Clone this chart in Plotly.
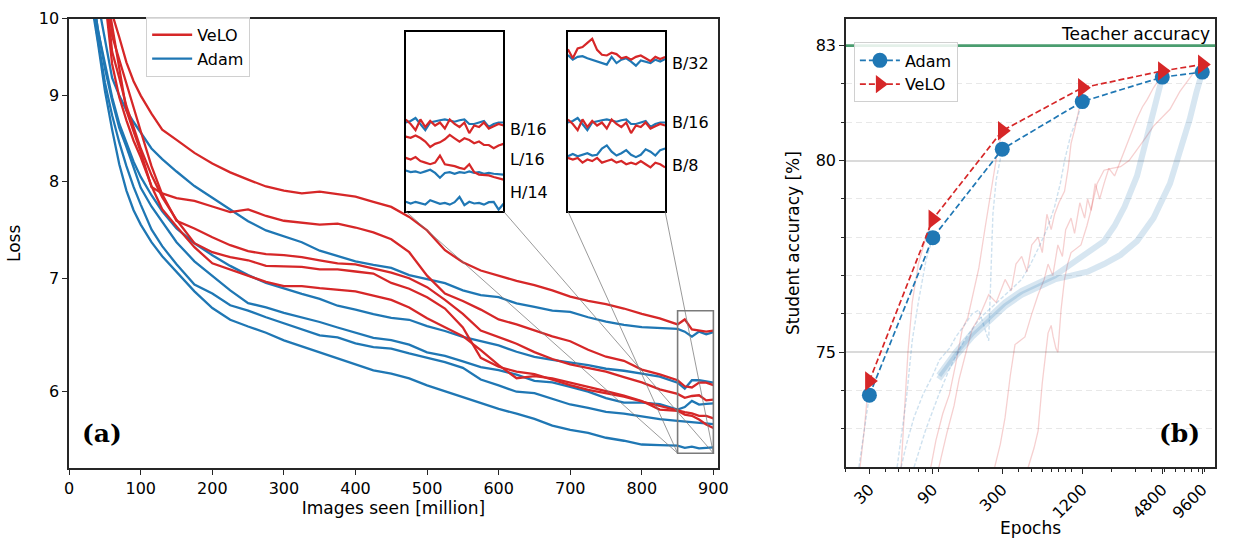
import math
import plotly.graph_objects as go

W, H = 1239, 538
RED = "#d62728"
BLUE = "#1f77b4"
GREEN = "#4a9d6f"
FONT = "DejaVu Sans"

# ---------------- Panel (a): training loss ----------------
IMAGES_M = [20, 30, 40, 50, 60, 70, 80, 90, 100, 115, 130, 150,
            175, 200, 225, 250, 275, 300, 325, 350, 375, 400, 425, 450, 475, 500,
            525, 550, 575, 600, 625, 650, 675, 700, 725, 750, 775, 800, 825,
            850, 852.5, 855, 857.5, 860, 862.5, 865, 867.5, 870, 872.5, 875,
            877.5, 880, 882.5, 885, 887.5, 890, 892.5, 895, 897.5, 900]
# points of the zoom window that are also drawn in the full-size panel
MAIN_TAIL_X = [850, 860, 870, 880, 890, 900]

VELO_B32 = [12.5, 11.7, 11.0, 10.45, 10.07, 9.75, 9.42, 9.18, 9.0, 8.78, 8.59, 8.47,
            8.32, 8.20, 8.10, 8.02, 7.945, 7.90, 7.87, 7.89, 7.865, 7.835, 7.78, 7.725, 7.62, 7.48,
            7.28, 7.16, 7.08, 7.03, 6.98, 6.94, 6.89, 6.83, 6.79, 6.76, 6.72, 6.67, 6.63,
            6.575, 6.51, 6.58, 6.59, 6.62, 6.65, 6.57, 6.535, 6.53, 6.55, 6.54,
            6.51, 6.52, 6.50, 6.52, 6.53, 6.51, 6.49, 6.52, 6.505, 6.52]
ADAM_B32 = [12.0, 11.0, 10.25, 9.72, 9.22, 9.0, 8.82, 8.68, 8.55, 8.37, 8.25, 8.11,
            7.95, 7.82, 7.70, 7.575, 7.48, 7.42, 7.36, 7.275, 7.22, 7.17, 7.135, 7.105, 7.035, 7.0,
            6.958, 6.89, 6.845, 6.825, 6.768, 6.735, 6.70, 6.69, 6.64, 6.60, 6.57, 6.55, 6.54,
            6.534, 6.50, 6.52, 6.525, 6.51, 6.50, 6.487, 6.476, 6.465, 6.52, 6.476,
            6.50, 6.51, 6.487, 6.458, 6.495, 6.487, 6.476, 6.50, 6.487, 6.505]
VELO_B16 = [13.0, 12.0, 11.2, 10.5, 9.89, 9.31, 8.82, 8.57, 8.33, 7.94, 7.87, 7.82,
            7.79, 7.73, 7.67, 7.70, 7.63, 7.58, 7.56, 7.54, 7.55, 7.51, 7.46, 7.39, 7.26, 7.03,
            6.86, 6.79, 6.71, 6.62, 6.575, 6.52, 6.468, 6.425, 6.35, 6.29, 6.255, 6.18, 6.14,
            6.09, 6.06, 6.02, 6.09, 6.04, 6.08, 6.05, 6.07, 6.03, 6.09, 6.06,
            6.04, 6.07, 6.00, 6.05, 6.04, 6.07, 6.03, 6.045, 6.06, 6.05]
ADAM_B16 = [11.8, 10.6, 9.85, 9.39, 8.98, 8.66, 8.43, 8.22, 8.05, 7.85, 7.68, 7.50,
            7.35, 7.23, 7.125, 7.035, 6.96, 6.905, 6.856, 6.81, 6.746, 6.71, 6.668, 6.635, 6.617, 6.56,
            6.516, 6.463, 6.425, 6.388, 6.333, 6.288, 6.263, 6.242, 6.217, 6.187, 6.17, 6.146, 6.12,
            6.07, 6.08, 6.10, 6.06, 6.02, 6.07, 6.08, 6.085, 6.09, 6.08, 6.075,
            6.085, 6.09, 6.06, 6.06, 6.07, 6.08, 6.04, 6.06, 6.07, 6.07]
VELO_B8 = [13.0, 12.0, 11.2, 10.5, 9.56, 9.22, 8.87, 8.62, 8.37, 8.07, 7.83, 7.59,
           7.35, 7.26, 7.21, 7.18, 7.125, 7.12, 7.115, 7.09, 7.09, 7.07, 7.05, 6.96, 6.905, 6.825,
           6.72, 6.547, 6.28, 6.204, 6.162, 6.142, 6.095, 6.05, 6.01, 5.983, 5.955, 5.915, 5.879,
           5.84, 5.83, 5.84, 5.81, 5.83, 5.82, 5.84, 5.81, 5.82, 5.83, 5.81,
           5.82, 5.80, 5.81, 5.80, 5.82, 5.80, 5.78, 5.81, 5.80, 5.78]
ADAM_B8 = [11.6, 10.5, 9.87, 9.34, 8.94, 8.61, 8.39, 8.15, 7.93, 7.73, 7.57, 7.36,
           7.17, 7.03, 6.89, 6.77, 6.73, 6.68, 6.64, 6.597, 6.547, 6.503, 6.455, 6.435, 6.395, 6.328,
           6.298, 6.25, 6.2, 6.175, 6.137, 6.085, 6.072, 6.035, 5.995, 5.943, 5.906, 5.906, 5.893,
           5.85, 5.865, 5.85, 5.86, 5.87, 5.855, 5.86, 5.90, 5.92, 5.88, 5.855,
           5.87, 5.89, 5.86, 5.845, 5.86, 5.895, 5.88, 5.855, 5.89, 5.90]
VELO_L16 = [13.5, 12.5, 11.6, 10.8, 9.77, 9.45, 9.15, 8.85, 8.57, 8.17, 7.86, 7.58,
            7.50, 7.41, 7.33, 7.27, 7.24, 7.23, 7.21, 7.18, 7.15, 7.14, 7.10, 7.06, 7.005, 6.92,
            6.80, 6.67, 6.52, 6.463, 6.403, 6.33, 6.27, 6.224, 6.195, 6.162, 6.117, 6.072, 6.015,
            5.977, 5.97, 5.985, 5.968, 5.945, 5.91, 5.93, 5.94, 5.96, 5.988, 5.966,
            5.945, 5.966, 5.955, 5.934, 5.945, 5.924, 5.923, 5.902, 5.92, 5.93]
ADAM_L16 = [11.6, 10.4, 9.73, 9.16, 8.76, 8.44, 8.17, 7.94, 7.75, 7.49, 7.32, 7.14,
            6.945, 6.86, 6.75, 6.70, 6.64, 6.586, 6.526, 6.477, 6.459, 6.406, 6.373, 6.36, 6.318, 6.284,
            6.244, 6.195, 6.096, 6.047, 5.995, 5.983, 5.935, 5.891, 5.864, 5.832, 5.818, 5.793, 5.773,
            5.76, 5.75, 5.755, 5.745, 5.755, 5.765, 5.745, 5.715, 5.745, 5.75, 5.74,
            5.75, 5.745, 5.755, 5.745, 5.75, 5.74, 5.745, 5.74, 5.738, 5.735]
VELO_H14 = [12.8, 11.8, 11.0, 10.3, 9.40, 8.98, 8.70, 8.46, 8.27, 7.95, 7.70, 7.52,
            7.31, 7.15, 7.09, 7.03, 6.97, 6.93, 6.93, 6.91, 6.895, 6.88, 6.84, 6.80, 6.73, 6.63,
            6.55, 6.47, 6.347, 6.218, 6.107, 6.125, 6.105, 6.072, 6.035, 6.0, 5.963, 5.919, 5.85,
            5.84, 5.83, 5.845, 5.82, 5.81, 5.80, 5.81, 5.855, 5.80, 5.794, 5.788,
            5.777, 5.77, 5.80, 5.75, 5.735, 5.732, 5.73, 5.72, 5.712, 5.703]
ADAM_H14 = [11.5, 10.3, 9.69, 9.06, 8.59, 8.19, 7.90, 7.69, 7.54, 7.36, 7.22, 7.07,
            6.88, 6.725, 6.617, 6.556, 6.50, 6.433, 6.38, 6.326, 6.27, 6.225, 6.173, 6.146, 6.105, 6.047,
            6.0, 5.947, 5.903, 5.855, 5.817, 5.775, 5.723, 5.689, 5.666, 5.628, 5.605, 5.576, 5.572,
            5.567, 5.557, 5.567, 5.56, 5.55, 5.577, 5.565, 5.555, 5.56, 5.55, 5.565,
            5.597, 5.547, 5.567, 5.557, 5.56, 5.55, 5.565, 5.567, 5.52, 5.555]

MODELS = ["B/32", "B/16", "B/8", "L/16", "H/14"]
VELO = {"B/32": VELO_B32, "B/16": VELO_B16, "B/8": VELO_B8, "L/16": VELO_L16, "H/14": VELO_H14}
ADAM = {"B/32": ADAM_B32, "B/16": ADAM_B16, "B/8": ADAM_B8, "L/16": ADAM_L16, "H/14": ADAM_H14}
INSET1_MODELS = ["B/16", "L/16", "H/14"]
INSET2_MODELS = ["B/32", "B/16", "B/8"]
ZOOM_X = [850, 900]
ZOOM_Y = [5.51, 6.70]
X_TICKS_A = [0, 100, 200, 300, 400, 500, 600, 700, 800, 900]
Y_TICKS_A = [6, 7, 8, 9, 10]
X_RANGE_A = [0, 906]
Y_RANGE_A = [5.4, 10]

# ---------------- Panel (b): student accuracy ----------------
EPOCHS = [30, 90, 300, 1200, 4800, 9600]
ADAM_ACC = [73.88, 77.99, 80.30, 81.54, 82.18, 82.31]
VELO_ACC = [74.25, 78.47, 80.78, 81.90, 82.34, 82.51]
TEACHER_ACC = 83.0

# faint training curves (epoch, accuracy)
V30_E = [25.5, 27.5, 29, 30]
V30_A = [72.0, 73.0, 73.9, 74.25]
V90_E = [52, 55, 58.5, 63, 70, 80, 90]
V90_A = [72.0, 73.5, 75.0, 76.3, 77.3, 78.0, 78.47]
V300_E = [87, 95, 107, 120, 134, 150, 165, 178, 200, 224, 250, 275, 300]
V300_A = [72.0, 72.7, 73.4, 73.9, 74.7, 75.6, 75.9, 76.4, 77.2, 78.3, 79.3, 80.2, 80.78]
V1200_E = [100, 115, 130, 142, 160, 178, 200, 237, 270, 315, 350, 380, 420, 460,
           500, 558, 600, 650, 700, 743, 800, 882, 940, 988, 1050, 1109, 1160, 1200]
V1200_A = [72.0, 72.9, 73.6, 74.3, 75.0, 75.6, 75.9, 76.5, 76.3, 76.9, 76.6, 77.3, 77.5, 77.1,
           77.8, 78.0, 77.6, 78.6, 78.2, 78.6, 78.9, 79.2, 79.8, 80.45, 80.8, 81.15, 81.5, 81.9]
V4800_E = [263, 290, 315, 345, 374, 444, 500, 558, 620, 663, 720, 786, 850, 900, 988, 1050, 1150,
           1250, 1316, 1400, 1500, 1620, 1749, 1900, 2100, 2328, 2600, 2900, 3097, 3400, 3700,
           4121, 4500, 4800]
V4800_A = [72.0, 72.6, 73.3, 74.4, 75.2, 75.4, 76.0, 76.5, 76.9, 77.3, 77.0, 77.8, 77.5, 78.2,
           78.5, 78.1, 78.9, 78.5, 79.0, 78.7, 79.4, 79.0, 79.4, 79.8, 79.6, 80.0, 80.4, 80.8,
           81.1, 81.4, 81.6, 81.9, 82.1, 82.34]
V9600_E = [470, 520, 558, 600, 663, 700, 723, 760, 786, 830, 882, 930, 988, 1080, 1173, 1300,
           1393, 1550, 1749, 2000, 2328, 2700, 3097, 3600, 4121, 4700, 5483, 6500, 7300, 8300, 9600]
V9600_A = [72.0, 72.5, 72.95, 74.2, 75.5, 75.7, 75.42, 75.1, 75.0, 76.1, 76.9, 77.3, 77.6, 77.7,
           77.8, 78.3, 78.7, 79.4, 79.75, 79.8, 79.84, 80.0, 80.28, 80.6, 80.9, 81.1, 81.34, 81.8,
           82.05, 82.3, 82.51]
A30_E = [25, 30]
A30_A = [72.0, 73.88]
A90_E = [48.5, 52, 57, 63, 70, 80, 90]
A90_A = [72.0, 72.8, 73.8, 75.3, 76.3, 77.4, 77.99]
A300_E = [52, 57, 65, 76, 90, 101, 120, 134, 155, 178, 200, 224, 237, 245, 255, 270, 285, 300]
A300_A = [72.0, 72.6, 73.3, 73.9, 74.4, 74.8, 75.1, 75.4, 75.7, 76.0, 76.1, 75.6, 75.3, 76.8,
          78.6, 79.5, 79.9, 80.3]
A1200_E = [65, 80, 100, 118, 134, 155, 178, 205, 237, 275, 315, 365, 420, 490, 558, 650, 743,
           820, 882, 940, 988, 1100, 1200]
A1200_A = [72.0, 73.0, 73.9, 74.5, 74.9, 75.3, 75.6, 75.9, 76.1, 76.3, 76.5, 76.7, 76.9, 77.3,
           77.7, 78.2, 78.8, 79.4, 80.0, 80.4, 80.7, 81.1, 81.54]
A4800_E = [100, 134, 178, 237, 315, 420, 558, 743, 988, 1316, 1749, 2100, 2500, 3097, 3600,
           4121, 4500, 4800]
A4800_A = [74.4, 75.0, 75.5, 75.9, 76.3, 76.6, 76.8, 77.0, 77.3, 77.6, 77.9, 78.3, 78.8, 79.6,
           80.5, 81.3, 81.85, 82.18]
A9600_E = [100, 134, 178, 237, 315, 420, 558, 743, 988, 1316, 1749, 2328, 3097, 4121, 5483,
           6500, 7728, 8665, 9600]
A9600_A = [74.3, 74.9, 75.4, 75.8, 76.2, 76.5, 76.7, 76.9, 77.0, 77.1, 77.3, 77.54, 77.9, 78.5,
           79.4, 80.19, 81.08, 81.78, 82.31]
X_RANGE_B = [20, 12000]
Y_RANGE_B = [72.0, 83.7]
Y_MAJOR_B = [75, 80, 83]
Y_MINOR_B = [73, 74, 76, 77, 78, 79, 81, 82]
X_MINOR_B = [20, 40, 50, 60, 70, 80, 100, 200, 400, 500, 600, 700, 800, 900, 1000,
             2000, 3000, 4000, 5000, 6000, 7000, 8000, 9000, 10000]

# ---------------- layout geometry (pixels -> paper) ----------------
def px(v):
    return v / W


def py(v):
    return 1 - v / H


DOM_A_X = [px(65), px(722)]
DOM_A_Y = [py(466.7), py(10)]
DOM_B_X = [px(852), px(1226)]
DOM_B_Y = [py(466), py(10)]
DOM_I1_X = [px(406), px(505)]
DOM_I2_X = [px(570.3), px(668.7)]
DOM_I_Y = [py(205.7), py(23.3)]

fig = go.Figure()


def main_view(xs, ys):
    out_x, out_y = [], []
    for a, b in zip(xs, ys):
        if a < ZOOM_X[0] or a in MAIN_TAIL_X:
            out_x.append(a)
            out_y.append(b)
    return out_x, out_y


def tail(xs, ys):
    out_x, out_y = [], []
    for a, b in zip(xs, ys):
        if a >= ZOOM_X[0]:
            out_x.append(a)
            out_y.append(b)
    return out_x, out_y


# main loss curves
for m in MODELS:
    mx, my = main_view(IMAGES_M, ADAM[m])
    fig.add_trace(go.Scatter(x=mx, y=my, mode="lines", name="Adam",
                             line=dict(color=BLUE, width=2.3), xaxis="x", yaxis="y",
                             showlegend=(m == "B/32"), legend="legend", legendrank=2,
                             hoverinfo="skip"))
    mx, my = main_view(IMAGES_M, VELO[m])
    fig.add_trace(go.Scatter(x=mx, y=my, mode="lines", name="VeLO",
                             line=dict(color=RED, width=2.3), xaxis="x", yaxis="y",
                             showlegend=(m == "B/32"), legend="legend", legendrank=1,
                             hoverinfo="skip"))

for models, xa, ya in [(INSET1_MODELS, "x3", "y3"), (INSET2_MODELS, "x4", "y4")]:
    for m in models:
        tx, ty = tail(IMAGES_M, ADAM[m])
        fig.add_trace(go.Scatter(x=tx, y=ty, mode="lines", line=dict(color=BLUE, width=2.2),
                                 xaxis=xa, yaxis=ya, showlegend=False, hoverinfo="skip"))
        tx, ty = tail(IMAGES_M, VELO[m])
        fig.add_trace(go.Scatter(x=tx, y=ty, mode="lines", line=dict(color=RED, width=2.2),
                                 xaxis=xa, yaxis=ya, showlegend=False, hoverinfo="skip"))

# faint curves panel (b)
FAINT_RED = "rgba(214,39,40,0.22)"
FAINT_BLUE = "rgba(31,119,180,0.22)"
BAND_BLUE = "rgba(31,119,180,0.18)"
for e, a in [(V30_E, V30_A), (V90_E, V90_A), (V300_E, V300_A), (V1200_E, V1200_A),
             (V4800_E, V4800_A), (V9600_E, V9600_A)]:
    fig.add_trace(go.Scatter(x=e, y=a, mode="lines", line=dict(color=FAINT_RED, width=1.3),
                             xaxis="x2", yaxis="y2", showlegend=False, hoverinfo="skip"))
for e, a in [(A30_E, A30_A), (A90_E, A90_A), (A300_E, A300_A), (A1200_E, A1200_A)]:
    fig.add_trace(go.Scatter(x=e, y=a, mode="lines",
                             line=dict(color=FAINT_BLUE, width=1.4, dash="4px,2px"),
                             xaxis="x2", yaxis="y2", showlegend=False, hoverinfo="skip"))
for e, a in [(A4800_E, A4800_A), (A9600_E, A9600_A)]:
    fig.add_trace(go.Scatter(x=e, y=a, mode="lines", line=dict(color=BAND_BLUE, width=6),
                             xaxis="x2", yaxis="y2", showlegend=False, hoverinfo="skip"))

fig.add_trace(go.Scatter(x=EPOCHS, y=ADAM_ACC, mode="lines+markers", name="Adam",
                         line=dict(color=BLUE, width=1.7, dash="6px,3px"),
                         marker=dict(symbol="circle", size=15, color=BLUE),
                         xaxis="x2", yaxis="y2", legend="legend2", legendrank=1,
                         hoverinfo="skip"))
fig.add_trace(go.Scatter(x=EPOCHS, y=VELO_ACC, mode="lines+markers", name="VeLO",
                         line=dict(color=RED, width=1.7, dash="6px,3px"),
                         marker=dict(symbol="triangle-right", size=17, color=RED),
                         xaxis="x2", yaxis="y2", legend="legend2", legendrank=2,
                         hoverinfo="skip"))

AXC = "#262626"
base_axis = dict(showline=True, linecolor=AXC, linewidth=1.5, mirror=True, ticks="outside",
                 ticklen=5, tickwidth=1.3, tickcolor=AXC, showgrid=False, zeroline=False,
                 tickfont=dict(family=FONT, size=16, color="black"))
inset_axis = dict(showline=True, linecolor="black", linewidth=1.6, mirror=True, ticks="",
                  showticklabels=False, showgrid=False, zeroline=False)

fig.update_layout(
    width=W, height=H, margin=dict(l=0, r=0, t=0, b=0),
    paper_bgcolor="white", plot_bgcolor="white",
    font=dict(family=FONT, size=16, color="black"),
    xaxis=dict(base_axis, domain=DOM_A_X, range=X_RANGE_A, anchor="y",
               tickvals=X_TICKS_A,
               title=dict(text="Images seen [million]", font=dict(size=17), standoff=4)),
    yaxis=dict(base_axis, domain=DOM_A_Y, type="log",
               range=[math.log10(Y_RANGE_A[0]), math.log10(Y_RANGE_A[1])], anchor="x",
               tickvals=Y_TICKS_A, ticktext=[str(v) for v in Y_TICKS_A],
               title=dict(text="Loss", font=dict(size=17), standoff=14)),
    xaxis2=dict(base_axis, domain=DOM_B_X, type="log",
                range=[math.log10(X_RANGE_B[0]), math.log10(X_RANGE_B[1])], anchor="y2",
                tickvals=EPOCHS, ticktext=[str(v) for v in EPOCHS], tickangle=-45,
                minor=dict(tickvals=X_MINOR_B, ticks="outside", ticklen=3, tickcolor=AXC,
                           showgrid=False),
                title=dict(text="Epochs", font=dict(size=17), standoff=0)),
    yaxis2=dict(base_axis, domain=DOM_B_Y, range=Y_RANGE_B, anchor="x2",
                tickvals=Y_MAJOR_B, showgrid=True, gridcolor="#dadada", gridwidth=1.5,
                minor=dict(tickvals=Y_MINOR_B, ticks="outside", ticklen=3, tickcolor=AXC,
                           showgrid=True, gridcolor="#e8e8e8", gridwidth=1.3, griddash="6px,4px"),
                title=dict(text="Student accuracy [%]", font=dict(size=17), standoff=12)),
    xaxis3=dict(inset_axis, domain=DOM_I1_X, range=ZOOM_X, anchor="y3"),
    yaxis3=dict(inset_axis, domain=DOM_I_Y, type="log",
                range=[math.log10(ZOOM_Y[0]), math.log10(ZOOM_Y[1])], anchor="x3"),
    xaxis4=dict(inset_axis, domain=DOM_I2_X, range=ZOOM_X, anchor="y4"),
    yaxis4=dict(inset_axis, domain=DOM_I_Y, type="log",
                range=[math.log10(ZOOM_Y[0]), math.log10(ZOOM_Y[1])], anchor="x4"),
    legend=dict(x=px(143), y=py(8), xanchor="left", yanchor="top",
                bgcolor="rgba(255,255,255,0.85)", bordercolor="#d0d0d0", borderwidth=1,
                font=dict(size=16), itemwidth=40, tracegroupgap=0),
    legend2=dict(x=px(860), y=py(34), xanchor="left", yanchor="top",
                 bgcolor="rgba(255,255,255,0.85)", bordercolor="#d0d0d0", borderwidth=1,
                 font=dict(size=16), itemwidth=40, tracegroupgap=0),
)


# zoom rectangle & connectors (paper coords computed from the axis mapping)
def a_to_paper(x, y):
    fx = DOM_A_X[0] + (x - X_RANGE_A[0]) / (X_RANGE_A[1] - X_RANGE_A[0]) * (DOM_A_X[1] - DOM_A_X[0])
    ly0, ly1 = math.log10(Y_RANGE_A[0]), math.log10(Y_RANGE_A[1])
    fy = DOM_A_Y[0] + (math.log10(y) - ly0) / (ly1 - ly0) * (DOM_A_Y[1] - DOM_A_Y[0])
    return fx, fy


rx0, ry0 = a_to_paper(ZOOM_X[0], ZOOM_Y[0])
rx1, ry1 = a_to_paper(ZOOM_X[1], ZOOM_Y[1])
fig.add_shape(type="rect", xref="paper", yref="paper", x0=rx0, y0=ry0, x1=rx1, y1=ry1,
              line=dict(color="#7a7a7a", width=1.6))
for dom in (DOM_I1_X, DOM_I2_X):
    fig.add_shape(type="line", xref="paper", yref="paper", x0=dom[0], y0=DOM_I_Y[0],
                  x1=rx0, y1=ry0, line=dict(color="rgba(120,120,120,0.75)", width=1))
    fig.add_shape(type="line", xref="paper", yref="paper", x0=dom[1], y0=DOM_I_Y[0],
                  x1=rx1, y1=ry0, line=dict(color="rgba(120,120,120,0.75)", width=1))

# teacher line
fig.add_shape(type="line", xref="x2 domain", yref="y2", x0=0, x1=1, y0=TEACHER_ACC,
              y1=TEACHER_ACC, line=dict(color=GREEN, width=2.6))

annos = [
    dict(text="Teacher accuracy", x=px(1223), y=py(25), xanchor="right", yanchor="middle",
         font=dict(size=17)),
    dict(text="<b>(a)</b>", x=px(98), y=py(432), xanchor="center", yanchor="middle",
         font=dict(family="DejaVu Serif", size=25)),
    dict(text="<b>(b)</b>", x=px(1190), y=py(432), xanchor="center", yanchor="middle",
         font=dict(family="DejaVu Serif", size=25)),
]
# inset labels
for lab, yy in [("B/16", 123), ("L/16", 153), ("H/14", 187)]:
    annos.append(dict(text=lab, x=px(510), y=py(yy), xanchor="left", yanchor="middle",
                      font=dict(size=16)))
for lab, yy in [("B/32", 55), ("B/16", 115), ("B/8", 159)]:
    annos.append(dict(text=lab, x=px(674), y=py(yy), xanchor="left", yanchor="middle",
                      font=dict(size=16)))
for a in annos:
    fig.add_annotation(xref="paper", yref="paper", showarrow=False, **a)

fig.write_html("out.html")
